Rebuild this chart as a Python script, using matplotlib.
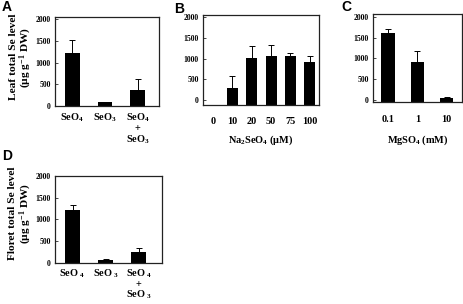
import numpy as np
import matplotlib
matplotlib.use('Agg')
import matplotlib.pyplot as plt

plt.rcParams['font.family'] = 'serif'
plt.rcParams['font.serif'] = ['Liberation Serif', 'DejaVu Serif']
plt.rcParams['font.weight'] = 'bold'
plt.rcParams['mathtext.default'] = 'regular'

# panel A: leaf, by Se form
a_labels = ['SeO$_4$', 'SeO$_3$', 'SeO$_4$\n+\nSeO$_3$']
a_means = [1230, 100, 375]
a_err = [300, 0, 240]

# panel B: leaf, by Na2SeO4 concentration
b_labels = ['0', '10', '20', '50', '75', '100']
b_means = [0, 305, 1015, 1060, 1060, 920]
b_err = [0, 275, 285, 265, 80, 140]

# panel C: leaf, by MgSO4 concentration
c_labels = ['0.1', '1', '10']
c_means = [1615, 905, 30]
c_err = [85, 260, 30]

# panel D: floret, by Se form
d_labels = ['SeO $_4$', 'SeO $_3$', 'SeO $_4$\n+\nSeO $_3$']
d_means = [1205, 60, 255]
d_err = [115, 20, 80]

W, H = 464, 304


def box(x0, y0, x1, y1):
    return [x0 / W, 1 - y1 / H, (x1 - x0) / W, (y1 - y0) / H]


def panel(ax, labels, means, err, width, ylim, xlim, xpad):
    x = np.arange(len(means))
    means = np.array(means, dtype=float)
    err = np.array(err, dtype=float)
    base = min(ylim[0], 0)
    # bars reach down to the bottom spine; empty groups stay empty
    heights = np.where(means > 0, means - base, 0)
    ax.bar(x, heights, width=width, bottom=base, color='black')
    m = err > 0
    ax.errorbar(x[m], means[m], yerr=[np.zeros(m.sum()), err[m]], fmt='none',
                ecolor='black', elinewidth=0.7, capsize=2.2, capthick=0.7)
    ax.set_ylim(*ylim)
    ax.set_xlim(*xlim)
    ax.set_yticks([0, 500, 1000, 1500, 2000])
    ax.set_xticks(x)
    ax.set_xticklabels(labels, fontsize=7.4, fontweight='bold', linespacing=1.0)
    for t in ax.get_yticklabels():
        t.set_fontweight('bold')
    ax.tick_params(axis='y', direction='in', length=2, width=0.5,
                   labelsize=5.6, pad=3)
    ax.tick_params(axis='x', length=0, pad=xpad)
    for s in ax.spines.values():
        s.set_linewidth(0.9)
        s.set_color('#222222')


fig = plt.figure(figsize=(W / 100, H / 100), dpi=100)

axA = fig.add_axes(box(55, 17, 159, 106))
panel(axA, a_labels, a_means, a_err, 0.45, (0, 2050), (-0.53, 2.65), 4)
axA.set_ylabel('Leaf total Se level\n(\u00b5g g$^{-1}$ DW)', fontsize=8.2,
               fontweight='bold', linespacing=1.05)
axA.yaxis.set_label_coords(-0.2, 0.55)

axB = fig.add_axes(box(203, 15, 319, 105))
panel(axB, b_labels, b_means, b_err, 0.57, (-115, 2045), (-0.52, 5.48), 9)
axB.set_xlabel('Na$_2$SeO$_4$ (\u00b5M)', fontsize=7.4, fontweight='bold',
               labelpad=5)

axC = fig.add_axes(box(373, 14, 462, 102))
panel(axC, c_labels, c_means, c_err, 0.45, (-60, 2070), (-0.51, 2.52), 9)
axC.set_xlabel('MgSO$_4$ (mM)', fontsize=7.4, fontweight='bold', labelpad=7)

axD = fig.add_axes(box(55, 176, 162, 263))
panel(axD, d_labels, d_means, d_err, 0.45, (-10, 2000), (-0.53, 2.7), 3)
axD.set_ylabel('Floret total Se level\n(\u00b5g g$^{-1}$ DW)', fontsize=8.2,
               fontweight='bold', linespacing=1.05)
axD.yaxis.set_label_coords(-0.195, 0.57)

for letter, px, py in [('A', 7, 7), ('B', 179, 9), ('C', 346, 7), ('D', 7, 156)]:
    fig.text(px / W, 1 - py / H, letter, family='Liberation Sans',
             weight='bold', fontsize=10, ha='center', va='center')

fig.savefig('out.png', dpi=100)
